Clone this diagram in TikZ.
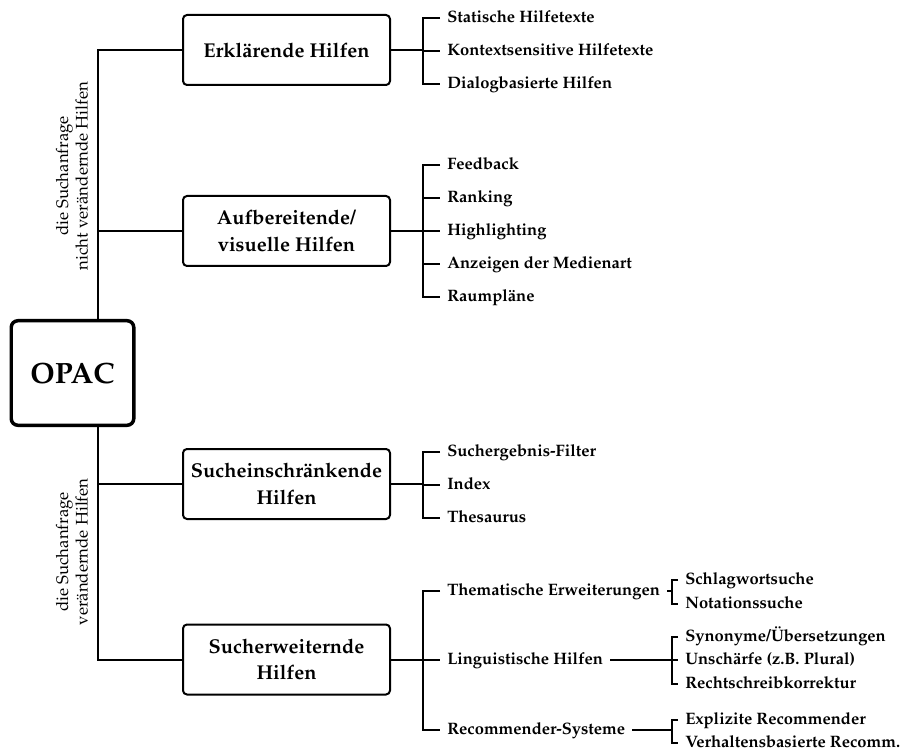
\documentclass[tikz,border=0pt]{standalone}
\usepackage[T1]{fontenc}
\usepackage{mathpazo}
\usepackage{tikz}

\tikzset{
  hilfe/.style={draw, line width=1.5pt, rounded corners=3pt, minimum width=155.25pt, minimum height=52.5pt, inner sep=2pt, align=center, font=\bfseries\fontsize{15}{20}\selectfont},
  wurzel/.style={draw, line width=2.6pt, rounded corners=5pt, minimum width=91.9pt, minimum height=78.4pt, font=\bfseries\fontsize{22}{26}\selectfont},
  eintrag/.style={anchor=west, inner xsep=5.25pt, inner ysep=0pt, text height=0.69em, text depth=0pt, font=\bfseries\fontsize{12.4}{14}\selectfont},
  seite/.style={rotate=90, align=center, font=\fontsize{12.6}{14.5}\selectfont},
  ast/.style={line width=1.5pt}
}

\begin{document}
\begin{tikzpicture}[x=0.75pt,y=-0.75pt]
\useasboundingbox (0,0) rectangle (903,752);

% Wurzel und Hilfearten
\node[wurzel] (opac) at (72.5,373) {OPAC};
\node[hilfe] (erkl) at (286.5,50) {Erkl\"arende Hilfen};
\node[hilfe] (aufb) at (286.5,231) {Aufbereitende/\\visuelle Hilfen};
\node[hilfe] (ein) at (286.5,484) {Sucheinschr\"ankende\\Hilfen};
\node[hilfe] (wei) at (286.5,659.5) {Sucherweiternde\\Hilfen};

\node[seite] (lab1) at (72,176) {die Suchanfrage\\nicht ver\"andernde Hilfen};
\node[seite] (lab2) at (72,552) {die Suchanfrage\\ver\"andernde Hilfen};

\coordinate (stamm) at (98,0);
\coordinate (gabel) at (423,0);
\coordinate (gabel2) at (672,0);

% Eintraege
\node[eintrag] (e1) at (440,18) {Statische Hilfetexte};
\node[eintrag] (e2) at (440,51) {Kontextsensitive Hilfetexte};
\node[eintrag] (e3) at (440,84) {Dialogbasierte Hilfen};

\node[eintrag] (a1) at (440,165) {Feedback};
\node[eintrag] (a2) at (440,198) {Ranking};
\node[eintrag] (a3) at (440,231) {Highlighting};
\node[eintrag] (a4) at (440,264) {Anzeigen der Medienart};
\node[eintrag] (a5) at (440,297) {Raumpl\"ane};

\node[eintrag] (s1) at (440,452) {Suchergebnis-Filter};
\node[eintrag] (s2) at (440,485) {Index};
\node[eintrag] (s3) at (440,518) {Thesaurus};

\node[eintrag] (w1) at (440,591) {Thematische Erweiterungen};
\node[eintrag] (w2) at (440,660) {Linguistische Hilfen};
\node[eintrag] (w3) at (440,730) {Recommender-Systeme};

\node[eintrag] (t1) at (678,580) {Schlagwortsuche};
\node[eintrag] (t2) at (678,604) {Notationssuche};
\node[eintrag] (l1) at (678,637) {Synonyme/\"Ubersetzungen};
\node[eintrag] (l2) at (678,660) {Unsch\"arfe (z.B. Plural)};
\node[eintrag] (l3) at (678,684) {Rechtschreibkorrektur};
\node[eintrag] (r1) at (678,720) {Explizite Recommender};
\node[eintrag] (r2) at (678,743) {Verhaltensbasierte Recomm.};

% Stamm
\draw[ast] (opac.north -| stamm) |- (erkl);
\draw[ast] (stamm |- aufb) -- (aufb);
\draw[ast] (opac.south -| stamm) |- (wei);
\draw[ast] (stamm |- ein) -- (ein);

% Klammern
\draw[ast] (erkl) -- (erkl -| gabel);
\draw[ast] (e1.west) -| (gabel |- e3.west) -- (e3.west);
\draw[ast] (gabel |- e2.west) -- (e2.west);

\draw[ast] (aufb) -- (aufb -| gabel);
\draw[ast] (a1.west) -| (gabel |- a5.west) -- (a5.west);
\draw[ast] (gabel |- a2.west) -- (a2.west);
\draw[ast] (gabel |- a3.west) -- (a3.west);
\draw[ast] (gabel |- a4.west) -- (a4.west);

\draw[ast] (ein) -- (ein -| gabel);
\draw[ast] (s1.west) -| (gabel |- s3.west) -- (s3.west);
\draw[ast] (gabel |- s2.west) -- (s2.west);

\draw[ast] (wei) -- (wei -| gabel);
\draw[ast] (w1.west) -| (gabel |- w3.west) -- (w3.west);
\draw[ast] (gabel |- w2.west) -- (w2.west);

\draw[ast] (w1.east) -- (w1.east -| gabel2);
\draw[ast] (t1.west) -| (gabel2 |- t2.west) -- (t2.west);

\draw[ast] (w2.east) -- (w2.east -| gabel2);
\draw[ast] (l1.west) -| (gabel2 |- l3.west) -- (l3.west);
\draw[ast] (gabel2 |- l2.west) -- (l2.west);

\draw[ast] (w3.east) -- (w3.east -| gabel2);
\draw[ast] (r1.west) -| (gabel2 |- r2.west) -- (r2.west);
\end{tikzpicture}
\end{document}
